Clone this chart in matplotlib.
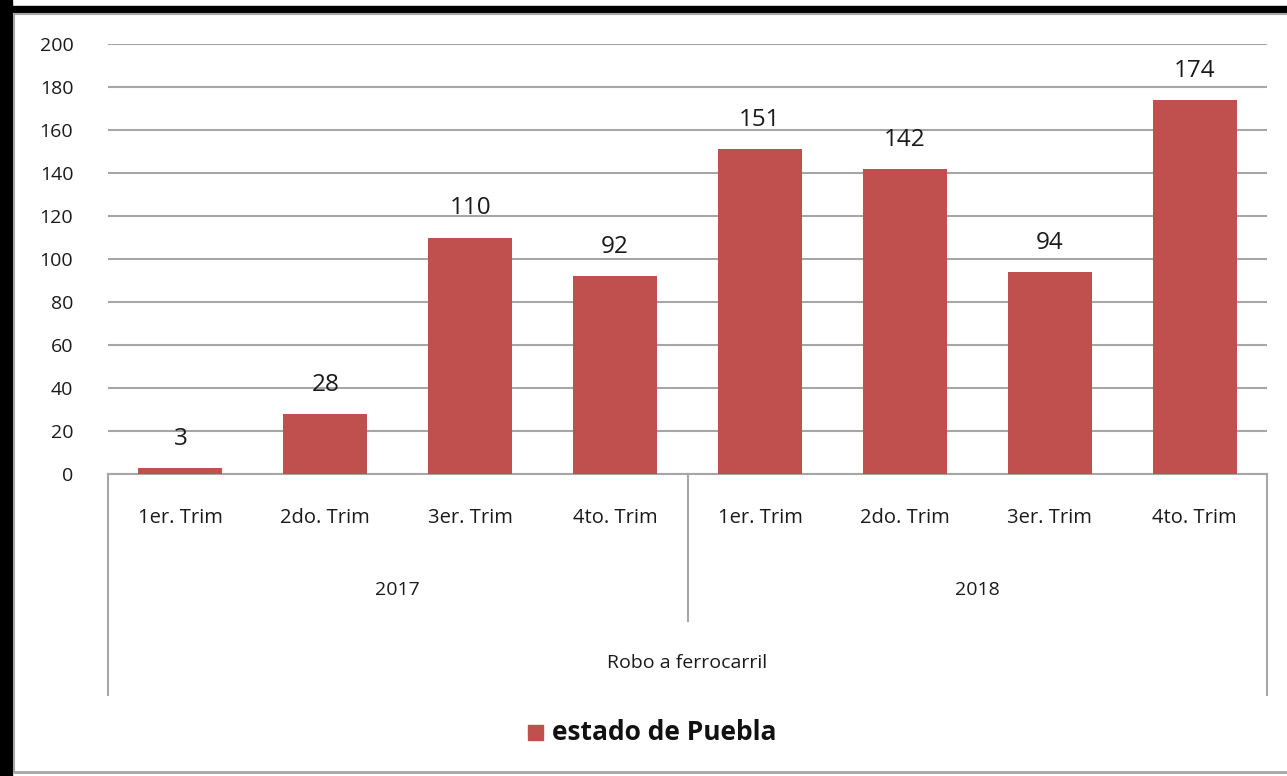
import numpy as np
import matplotlib.pyplot as plt
from matplotlib.patches import Rectangle
from matplotlib.lines import Line2D

quarters = ["1er. Trim", "2do. Trim", "3er. Trim", "4to. Trim",
            "1er. Trim", "2do. Trim", "3er. Trim", "4to. Trim"]
years = ["2017", "2018"]
values = [3, 28, 110, 92, 151, 142, 94, 174]
group_label = "Robo a ferrocarril"
series_name = "estado de Puebla"

plt.rcParams['font.family'] = ['Open Sans', 'DejaVu Sans']

W, H = 1287, 776
fig = plt.figure(figsize=(W / 100, H / 100), dpi=100)

# frame: black on top/left, thin gray inside
fig.patches.append(Rectangle((0, 0), 12 / W, 1, transform=fig.transFigure, color='black'))
fig.patches.append(Rectangle((0, 1 - 12 / H), 1, 6 / H, transform=fig.transFigure, color='black'))
gray = '#A6A6A6'
fig.lines.append(Line2D([14 / W, 14 / W], [1 - 772 / H, 1 - 14 / H], transform=fig.transFigure, color=gray, lw=1.5))
fig.lines.append(Line2D([14 / W, 1], [1 - 14 / H, 1 - 14 / H], transform=fig.transFigure, color=gray, lw=1.5))
fig.lines.append(Line2D([14 / W, 1], [1 - 772 / H, 1 - 772 / H], transform=fig.transFigure, color=gray, lw=2))

left, right, top, bottom = 108, 1267, 44, 474
ax = fig.add_axes([left / W, 1 - bottom / H, (right - left) / W, (bottom - top) / H])

x = np.arange(len(values))
bars = ax.bar(x, values, width=0.58, color='#C0504D', zorder=3)
for xi, v in zip(x, values):
    ax.text(xi, v + 13.5, str(v), ha='center', va='center', fontsize=17.5, color='#1a1a1a')

ax.set_xlim(-0.5, len(values) - 0.5)
ax.set_ylim(0, 200)
ax.set_yticks(np.arange(0, 201, 20))
ax.tick_params(axis='y', length=0, pad=25, labelsize=14, labelcolor='#1a1a1a')
ax.set_xticks([])
ax.grid(axis='y', color=gray, lw=1.5, zorder=0)
for s in ['top', 'right', 'left']:
    ax.spines[s].set_visible(False)
ax.spines['bottom'].set_color(gray)
ax.spines['bottom'].set_linewidth(1.5)

# multi-level category axis
def ypix(p):
    return -(p - bottom) / (bottom - top)

trans = ax.get_xaxis_transform()
for xi, q in zip(x, quarters):
    ax.text(xi, ypix(518), q, transform=trans, ha='center', va='center', fontsize=14.5, color='#1a1a1a')
for i, yr in enumerate(years):
    ax.text(1.5 + 4 * i, ypix(590), yr, transform=trans, ha='center', va='center', fontsize=14, color='#1a1a1a')
ax.text(3.5, ypix(663), group_label, transform=trans, ha='center', va='center', fontsize=14, color='#1a1a1a')

for xs, yend in [(-0.5, 695), (3.5, 621), (7.5, 695)]:
    ax.plot([xs, xs], [0, ypix(yend)], transform=trans, color=gray, lw=1.5, clip_on=False)

# legend
fig.patches.append(Rectangle((528 / W, 1 - 740 / H), 15 / W, 15 / H, transform=fig.transFigure, color='#C0504D'))
fig.text(552 / W, 1 - 732 / H, series_name, ha='left', va='center', fontsize=19, fontweight='bold', color='#111111')

fig.savefig('out.png', dpi=100)
